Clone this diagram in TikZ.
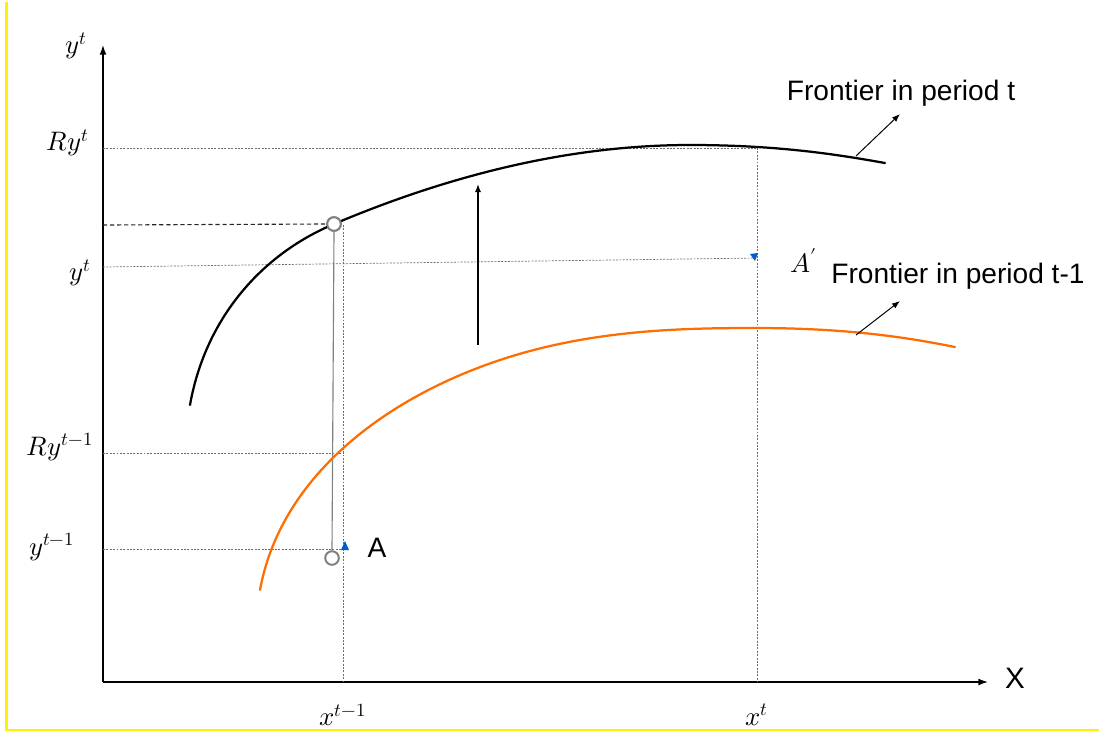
\documentclass[tikz,border=0pt]{standalone}
\usepackage{unicode-math}
\setmainfont{Latin Modern Roman}
\setsansfont{Liberation Sans}
\setmathfont{Latin Modern Math}
\usetikzlibrary{arrows.meta,positioning,calc}

\begin{document}
\begin{tikzpicture}[x=0.025cm, y=-0.025cm,
    axis/.style={line width=0.9pt, -{Latex[length=2.4mm,width=1.7mm]}},
    guide/.style={gray!85!black, line width=0.5pt, dash pattern=on 1.4pt off 1pt},
    heavy/.style={black!85, line width=0.8pt, dash pattern=on 3pt off 2pt},
    frontier/.style={line width=1.6pt, line cap=round},
    pt/.style={circle, draw=gray, line width=1.4pt, fill=white,
      minimum size=0.34cm, inner sep=0pt},
    lab/.style={font=\sffamily\fontsize{20}{24}\selectfont},
    mlab/.style={font=\fontsize{19}{23}\selectfont},
    larr/.style={-{Latex[length=2mm,width=1.5mm]}, line width=0.7pt},
    tip/.style={fill=blue!55!cyan!80!black}
]
% --- Marco ---
\useasboundingbox (0,0) rectangle (1099,733);
\draw[yellow, line width=1.5pt] (6.5,2) -- (6.5,730) -- (1099,730);

% --- Ejes ---
\coordinate (O) at (103,682);
\coordinate (ytop) at (103,45);
\coordinate (xend) at (988,682);
\draw[axis] (O) -- (ytop);
\draw[axis] (O) -- (xend);
\node[mlab] (ylab) at (76,46) {$y^{t}$};
\node[lab, font=\sffamily\fontsize{21}{24}\selectfont] (xlab) at (1015,678) {X};

% --- Niveles en el eje y ---
\node[mlab] (Ryt) at (68,143) {$Ry^{t}$};
\node[mlab] (yt) at (80,273) {$y^{t}$};
\node[mlab] (Rytm) at (60,447) {$Ry^{t-1}$};
\node[mlab] (ytm) at (52,547) {$y^{t-1}$};
\node[mlab] (xtm) at (343,715) {$x^{t-1}$};
\node[mlab] (xt) at (757,715) {$x^{t}$};

% --- Puntos ---
\node[pt] (P1) at (334,224) {};
\node[pt] (P2) at (332,558) {};
\coordinate (A) at (343,549);
\coordinate (Ap) at (757,258);
\node[lab, right=14pt of A, yshift=1pt] (Alab) {A};
\node[mlab, right=20pt of Ap, yshift=-2pt] (Aplab) {$A'$};

% --- Lineas guia ---
\draw[guide] (103,148) -- (757,148);
\draw[guide] (103,267) -- (Ap);
\draw[guide] (103,453) -- (343,453);
\draw[guide] (103,549) -- (A);
\draw[guide] (343,225) -- (343,682);
\draw[guide] (757,148) -- (757,682);
\draw[heavy] (103,225) -- (P1.west);
\draw[gray, line width=0.8pt] (P1.south) -- (P2.north);
\fill[tip] (341,550) -- (345,541) -- (349,550) -- cycle;
\fill[tip] (750,254) -- (758,253) -- (755,261) -- cycle;

% --- Fronteras ---
\draw[frontier, black] (190,405) .. controls (205,320) and (260,255) .. (334,224)
  .. controls (450,175) and (570,145) .. (690,145)
  .. controls (780,145) and (840,155) .. (885,163);
\draw[frontier, orange!85!red] (260,590) .. controls (280,480) and (380,400) .. (500,360)
  .. controls (590,330) and (680,328) .. (755,328)
  .. controls (850,328) and (910,338) .. (955,347);
\node[pt] at (334,224) {};

% --- Desplazamiento ---
\coordinate (s0) at (478,345);
\coordinate (s1) at (478,184);
\draw[larr, line width=0.9pt] (s0) -- (s1);

% --- Etiquetas de fronteras ---
\node[lab] (Ft) at (901,93) {Frontier in period t};
\node[lab] (Ftm) at (958,276) {Frontier in period t-1};
\coordinate (ft0) at (856,156);
\coordinate (ftm0) at (856,335);
\draw[larr] (ft0) -- (900,114);
\draw[larr] (ftm0) -- (900,301);
\end{tikzpicture}
\end{document}
